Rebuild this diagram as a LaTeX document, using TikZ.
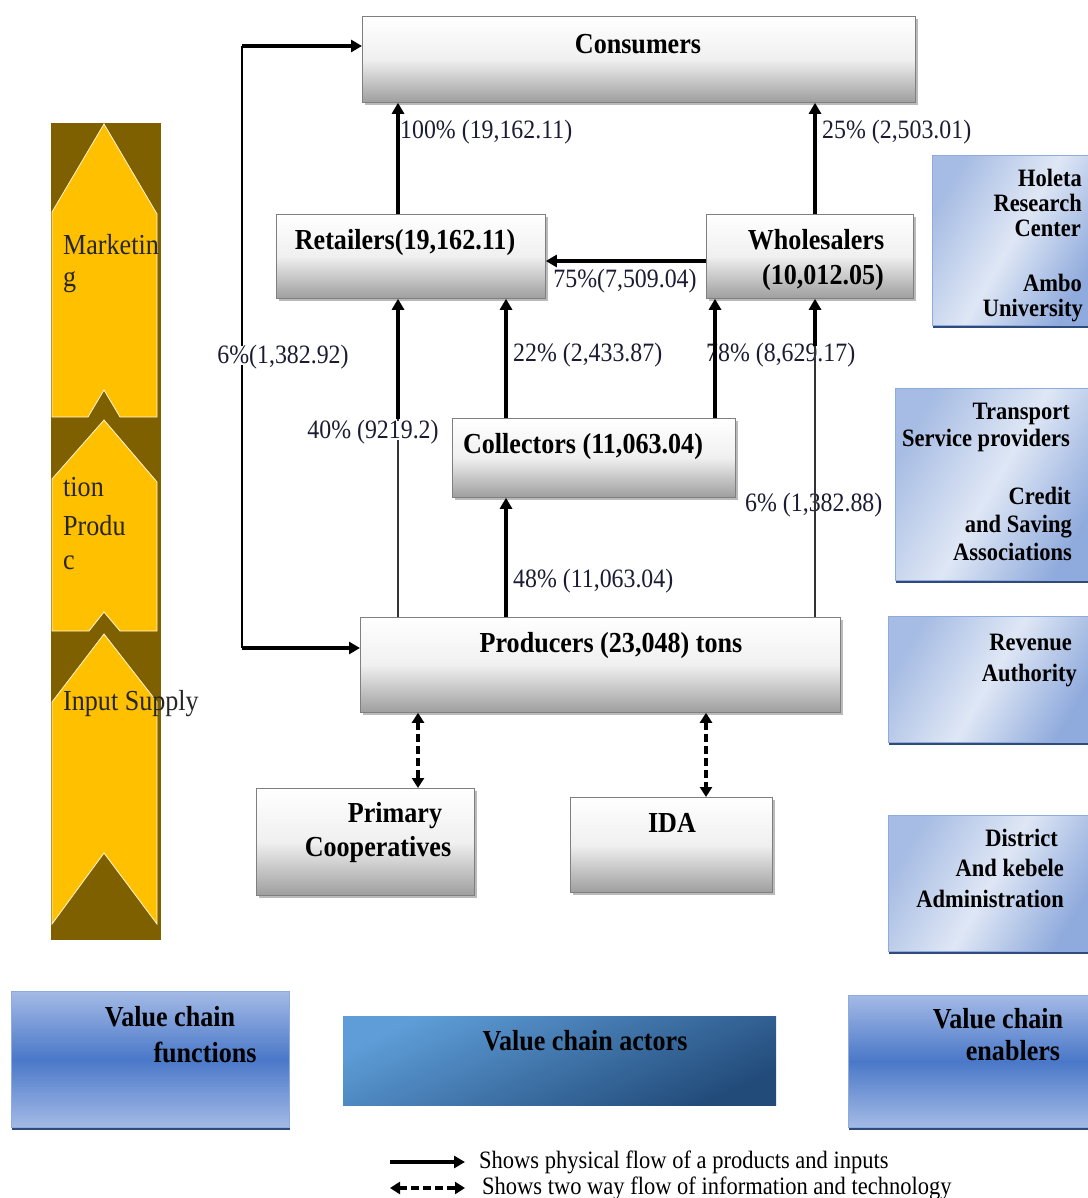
\documentclass[tikz,border=0pt]{standalone}
\usepackage{fontspec}
\setmainfont{Liberation Serif}[FakeStretch=0.9]
\usetikzlibrary{arrows.meta,shadows,calc}
\definecolor{chevY}{HTML}{FFC000}
\definecolor{chevB}{HTML}{7F6000}
\definecolor{boxline}{HTML}{7F7F7F}
\definecolor{bluelt}{HTML}{DFE7F5}
\definecolor{bluemd}{HTML}{8FAADC}
\definecolor{bluedk}{HTML}{2F4B7C}
\definecolor{fnmid}{HTML}{4A78C8}
\definecolor{fnlt}{HTML}{A4BAE6}
\definecolor{actA}{HTML}{5E9DD8}
\definecolor{actB}{HTML}{224B7A}
\definecolor{lbltxt}{HTML}{1B1B33}
\begin{document}
\begin{tikzpicture}[x=1pt,y=-1pt,
  graybox/.style={draw=boxline, line width=0.8pt, top color=white, bottom color=black!38, middle color=black!6,
    drop shadow={shadow xshift=2.5pt, shadow yshift=-2.5pt, fill=black!45, opacity=0.6}, inner sep=0pt, anchor=north west},
  bluebox/.style={draw=bluemd, line width=0.6pt, left color=bluemd!70!bluelt, right color=bluemd, middle color=bluelt, shading angle=60,
    drop shadow={shadow xshift=0.5pt, shadow yshift=-3pt, fill=bluedk, opacity=1}, inner sep=0pt, anchor=north west},
  fnbox/.style={draw=bluemd, line width=0.6pt, top color=fnlt, bottom color=fnlt, middle color=fnmid,
    drop shadow={shadow xshift=0.5pt, shadow yshift=-3pt, fill=bluedk, opacity=1}, inner sep=0pt, anchor=north west},
  actbox/.style={top color=actA, bottom color=actB, shading angle=25, inner sep=0pt, anchor=north west},
  bt/.style={font=\fontsize{29}{29}\selectfont\bfseries, inner sep=0pt, text height=20pt, text depth=0pt},
  et/.style={font=\fontsize{25}{25}\selectfont\bfseries, inner sep=0pt, text height=17pt, text depth=0pt, anchor=east},
  lb/.style={font=\fontsize{26.5}{26.5}\selectfont, text=lbltxt, inner sep=0pt, text height=17pt, text depth=0pt},
  lbw/.style={lb, fill=white, inner ysep=1pt, inner xsep=1pt},
  ct/.style={font=\fontsize{29}{29}\selectfont, inner sep=0pt, anchor=west, text height=17pt, text depth=0pt, text=black!85},
  lgt/.style={font=\fontsize{25}{25}\selectfont, inner sep=0pt, anchor=west, text height=17pt, text depth=0pt},
  thk/.style={line width=3.6pt, -{Triangle[length=11pt,width=12pt]}},
  thn/.style={line width=1.6pt, draw=black!80},
  dsh/.style={line width=3.4pt, dash pattern=on 8pt off 4pt, {Triangle[length=10pt,width=12pt]}-{Triangle[length=10pt,width=12pt]}},
  chev/.style={fill=chevY, draw=white!85!chevY, line width=0.8pt},
]
\useasboundingbox (0,0) rectangle (1087,1198);
\fill[white] (0,0) rectangle (1087,1198);

% ---------- functions strip (chevrons) ----------
\fill[chevB] (51,123) rectangle (161,940);
\filldraw[chev] (52,212) -- (104,124) -- (157,214) -- (157,417) -- (120,417) -- (104,390) -- (88,417) -- (52,417) -- cycle;
\filldraw[chev] (52,479) -- (104,420) -- (157,482) -- (157,631) -- (120,631) -- (104,612) -- (89,631) -- (52,631) -- cycle;
\filldraw[chev] (52,702) -- (104,634) -- (157,702) -- (157,924) -- (104,853) -- (52,924) -- cycle;
\node[ct] (cm1) at (63,246) {Marketin};
\node[ct] (cm2) at (63,278) {g};
\node[ct] (cp1) at (63,488) {tion};
\node[ct] (cp2) at (63,527) {Produ};
\node[ct] (cp3) at (63,561) {c};
\node[ct] (ci1) at (63,702) {Input Supply};

% ---------- actor boxes ----------
\node[graybox, minimum width=553, minimum height=86] (cons) at (362,16) {};
\node[graybox, minimum width=269, minimum height=84] (ret) at (276,214) {};
\node[graybox, minimum width=207, minimum height=84] (whl) at (706,214) {};
\node[graybox, minimum width=283, minimum height=79] (col) at (452,418) {};
\node[graybox, minimum width=480, minimum height=95] (prod) at (360,617) {};
\node[graybox, minimum width=218, minimum height=107] (coop) at (256,788) {};
\node[graybox, minimum width=202, minimum height=95] (ida) at (570,797) {};

\node[bt] (tcons) at (638,44) {Consumers};
\node[bt] (tret) at (405,240) {Retailers(19,162.11)};
\node[bt] (twh1) at (816,240) {Wholesalers};
\node[bt] (twh2) at (823,274) {(10,012.05)};
\node[bt] (tcol) at (583,443) {Collectors (11,063.04)};
\node[bt] (tprod) at (611,642) {Producers (23,048) tons};
\node[bt] (tcp1) at (395,812) {Primary};
\node[bt] (tcp2) at (378,846) {Cooperatives};
\node[bt] (tida) at (672,822) {IDA};

% ---------- helper coordinates ----------
\coordinate (x398) at (398,0);
\coordinate (x506) at (506,0);
\coordinate (x715) at (715,0);
\coordinate (x815) at (815,0);
\coordinate (x418) at (418,0);
\coordinate (x706) at (706,0);
\coordinate (y261) at (0,261);
\coordinate (m1) at (398,419);
\coordinate (m2) at (815,346);
\coordinate (lpb) at (242,648);
\coordinate (lpt) at (242,46);

% labels drawn under lines
\node[lb, anchor=west] (l78) at (706,353) {78\% (8,629.17)};
\node[lb, anchor=west] (l6b) at (745,503) {6\% (1,382.88)};

% ---------- physical flows ----------
\draw[thk] (ret.north -| x398) -- (cons.south -| x398);
\draw[thk] (whl.north -| x815) -- (cons.south -| x815);
\draw[thk] (whl.west |- y261) -- (ret.east |- y261);
\draw[thn] (prod.north -| x398) -- (m1);
\draw[thk] (m1) -- (ret.south -| m1);
\draw[thk] (col.north -| x506) -- (ret.south -| x506);
\draw[thk] (col.north -| x715) -- (whl.south -| x715);
\draw[thn] (prod.north -| x815) -- (m2);
\draw[thk] (m2) -- (whl.south -| m2);
\draw[thk] (prod.north -| x506) -- (col.south -| x506);
\draw[line width=2pt] (lpb) -- (lpt);
\draw[line width=3.4pt, -{Triangle[length=11pt,width=12pt]}] (lpt) -- (cons.west |- lpt);
\draw[line width=3.4pt, -{Triangle[length=11pt,width=12pt]}] (lpb) -- (prod.west |- lpb);

% ---------- information flows ----------
\draw[dsh] (prod.south -| x418) -- (coop.north -| x418);
\draw[dsh] (prod.south -| x706) -- (ida.north -| x706);

% ---------- flow labels ----------
\node[lb, anchor=west] (l100) at (400,130) {100\% (19,162.11)};
\node[lb, anchor=west] (l25) at (822,130) {25\% (2,503.01)};
\node[lb] (l75) at (625,279) {75\%(7,509.04)};
\node[lbw] (l6a) at (283,355) {6\%(1,382.92)};
\node[lb, anchor=west] (l22) at (513,353) {22\% (2,433.87)};
\node[lbw] (l40) at (373,430) {40\% (9219.2)};
\node[lb, anchor=west] (l48) at (513,579) {48\% (11,063.04)};

% ---------- enablers ----------
\node[bluebox, minimum width=160, minimum height=170] (hol) at (932,155) {};
\node[bluebox, minimum width=197, minimum height=192] (trn) at (895,388) {};
\node[bluebox, minimum width=204, minimum height=126] (rev) at (888,616) {};
\node[bluebox, minimum width=204, minimum height=136] (dst) at (888,815) {};

\node[et] (e1) at (1082,178) {Holeta};
\node[et] (e2) at (1082,203) {Research};
\node[et] (e3) at (1081,228) {Center};
\node[et] (e4) at (1082,283) {Ambo};
\node[et] (e5) at (1083,308) {University};
\node[et] (e6) at (1070,411) {Transport};
\node[et] (e7) at (1070,438) {Service providers};
\node[et] (e8) at (1071,496) {Credit};
\node[et] (e9) at (1072,524) {and Saving};
\node[et] (e10) at (1072,552) {Associations};
\node[et] (e11) at (1072,642) {Revenue};
\node[et] (e12) at (1077,673) {Authority};
\node[et] (e13) at (1058,838) {District};
\node[et] (e14) at (1064,868) {And kebele};
\node[et] (e15) at (1064,899) {Administration};

% ---------- bottom key boxes ----------
\node[fnbox, minimum width=278, minimum height=136] (vcf) at (11,991) {};
\node[actbox, minimum width=433, minimum height=89] (vca) at (343,1016) {};
\node[fnbox, minimum width=244, minimum height=132] (vce) at (848,995) {};
\node[bt] (vf1) at (170,1016) {Value chain};
\node[bt] (vf2) at (205,1052) {functions};
\node[bt] (va1) at (585,1040) {Value chain actors};
\node[bt] (ve1) at (998,1018) {Value chain};
\node[bt] (ve2) at (1013,1050) {enablers};

% ---------- legend ----------
\coordinate (lg1a) at (390,1162);
\coordinate (lg1b) at (465,1162);
\coordinate (lg2a) at (390,1188);
\coordinate (lg2b) at (465,1188);
\draw[thk] (lg1a) -- (lg1b);
\draw[dsh] (lg2a) -- (lg2b);
\node[lgt] (lt1) at (479,1160) {Shows physical flow of a products and inputs};
\node[lgt] (lt2) at (482,1186) {Shows two way flow of information and technology};
\end{tikzpicture}
\end{document}
